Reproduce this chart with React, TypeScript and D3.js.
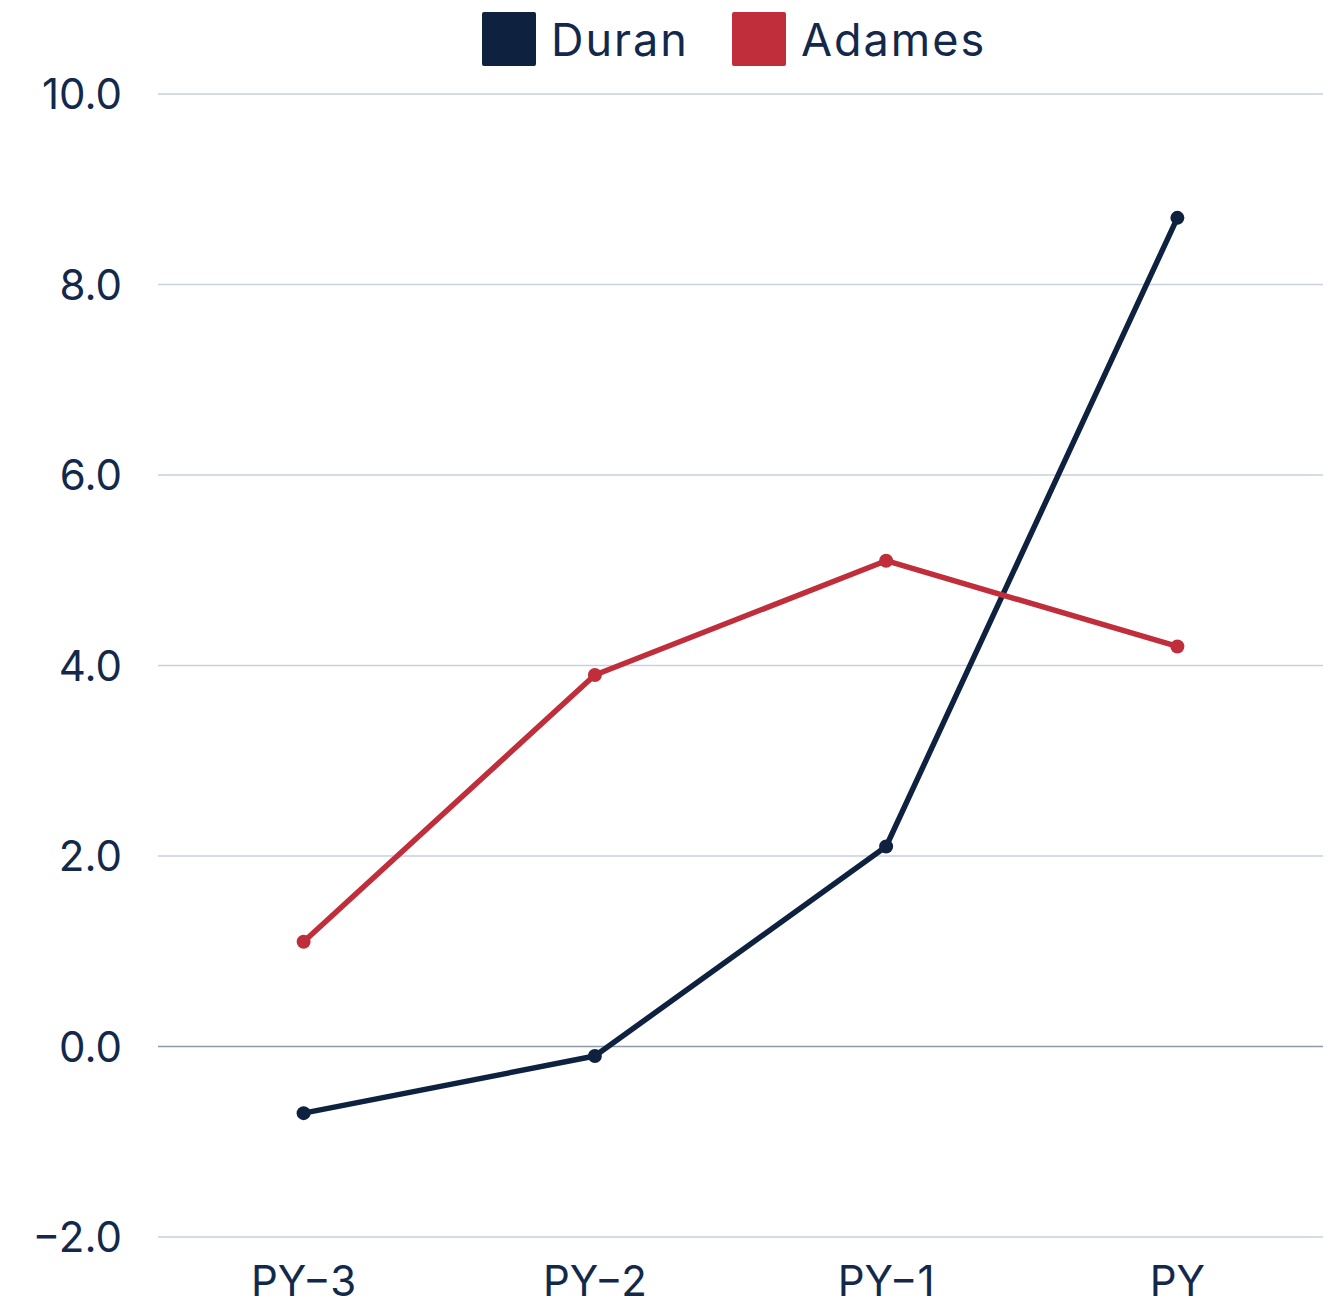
import React, { useEffect, useRef } from "react";
import * as d3 from "d3";

const categories = ["PY-3", "PY-2", "PY-1", "PY"];
const duran = [-0.7, -0.1, 2.1, 8.7];
const adames = [1.1, 3.9, 5.1, 4.2];
const yTicks = [-2, 0, 2, 4, 6, 8, 10];

const series = [
  { name: "Duran", values: duran, color: "#0e2240" },
  { name: "Adames", values: adames, color: "#bf2e3a" },
];

const W = 1338;
const H = 1300;
const FONT = "Inter, 'Noto Sans', sans-serif";
const TEXT = "#13294b";

export default function App() {
  const svgRef = useRef(null);

  useEffect(() => {
    const svg = d3.select(svgRef.current);
    svg.selectAll("*").remove();

    const x = d3.scalePoint().domain(categories).range([158, 1323]).padding(0.5);
    const y = d3.scaleLinear().domain([-2, 10]).range([1237, 94]);

    // grid
    svg.append("g")
      .selectAll("line")
      .data(yTicks)
      .join("line")
      .attr("x1", 158)
      .attr("x2", 1323)
      .attr("y1", d => y(d))
      .attr("y2", d => y(d))
      .attr("stroke", d => (d === 0 ? "#8e99a8" : "#c9d1dd"))
      .attr("stroke-width", 1.5);

    // y labels
    svg.append("g")
      .selectAll("text")
      .data(yTicks)
      .join("text")
      .attr("x", 122)
      .attr("y", d => y(d))
      .attr("dy", "0.36em")
      .attr("text-anchor", "end")
      .attr("font-family", FONT)
      .attr("font-size", 42)
      .attr("fill", TEXT)
      .text(d => d3.format(".1f")(d).replace("-", "\u2212"));

    // x labels
    svg.append("g")
      .selectAll("text")
      .data(categories)
      .join("text")
      .attr("x", d => x(d))
      .attr("y", 1296)
      .attr("text-anchor", "middle")
      .attr("font-family", FONT)
      .attr("font-size", 42)
      .attr("fill", TEXT)
      .text(d => d.replace("-", "\u2212"));

    const line = d3.line<number>()
      .x((d, i) => x(categories[i]))
      .y(d => y(d));

    series.forEach(s => {
      svg.append("path")
        .datum(s.values)
        .attr("d", line)
        .attr("fill", "none")
        .attr("stroke", s.color)
        .attr("stroke-width", 5.5)
        .attr("stroke-linejoin", "round");
      svg.append("g")
        .selectAll("circle")
        .data(s.values)
        .join("circle")
        .attr("cx", (d, i) => x(categories[i]))
        .attr("cy", d => y(d))
        .attr("r", 7)
        .attr("fill", s.color);
    });

    // legend
    const legendX = [482, 732];
    series.forEach((s, i) => {
      svg.append("rect")
        .attr("x", legendX[i])
        .attr("y", 12)
        .attr("width", 54)
        .attr("height", 54)
        .attr("rx", 2)
        .attr("fill", s.color);
      svg.append("text")
        .attr("x", legendX[i] + 69)
        .attr("y", 40)
        .attr("dy", "0.36em")
        .attr("font-family", FONT)
        .attr("font-size", 45)
        .attr("letter-spacing", 2)
        .attr("fill", TEXT)
        .text(s.name);
    });
  }, []);

  return (
    <svg
      ref={svgRef}
      width={W}
      height={H}
      style={{ position: "absolute", left: 0, top: 0, background: "#fff" }}
    />
  );
}
